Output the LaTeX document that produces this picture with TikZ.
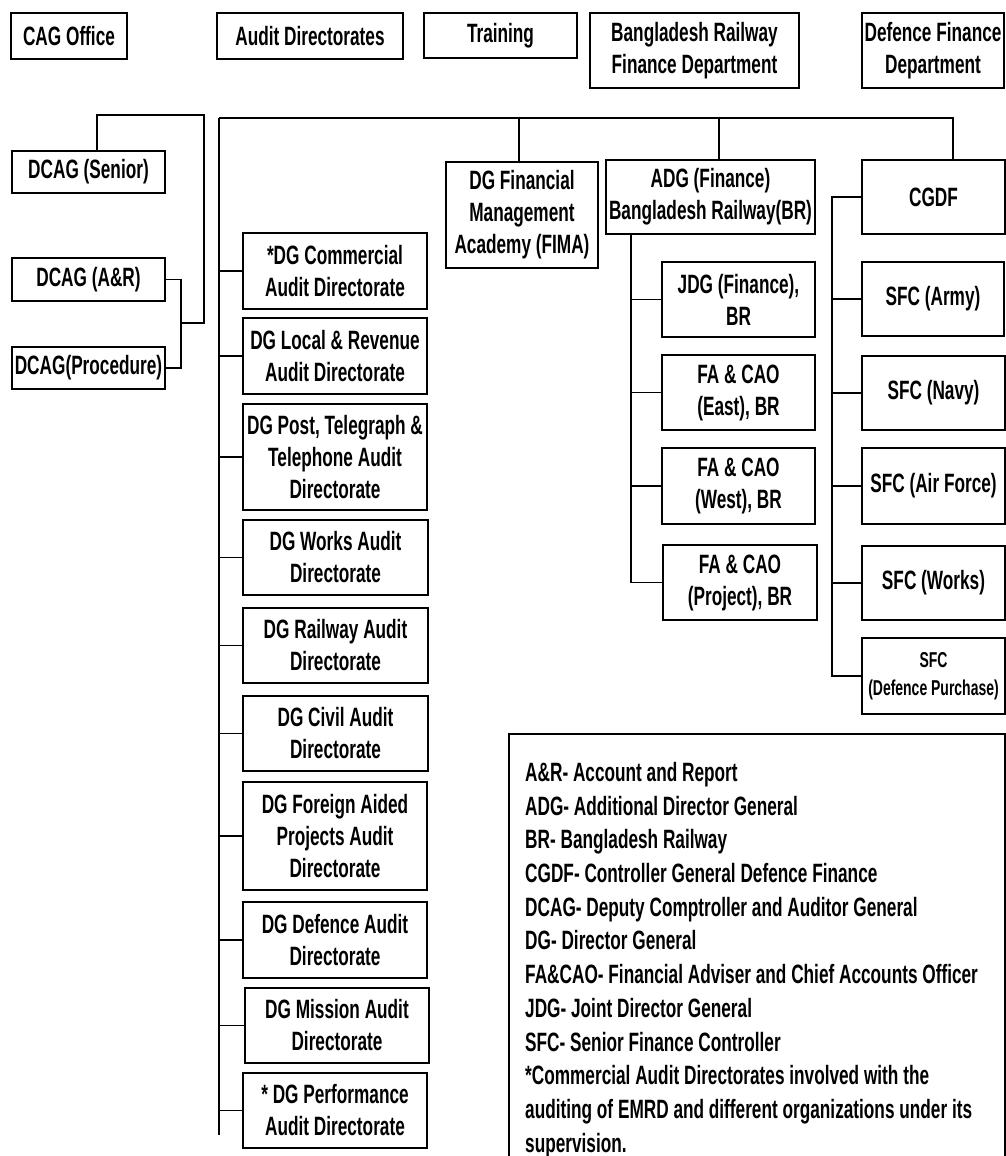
\documentclass[tikz,border=0pt]{standalone}
\usepackage{fontspec}
\setmainfont{Liberation Sans}[FakeStretch=0.65]
\tikzset{
  box/.style={draw, line width=1.6pt, inner sep=0pt, outer sep=0pt, align=center,
    font=\bfseries\fontsize{26.5}{32}\selectfont},
  smallbox/.style={box, font=\bfseries\fontsize{21.5}{28}\selectfont},
  conn/.style={line width=1.6pt},
}
\newcommand\orgbox[7][box]{%
  \node[#1, minimum width={(#5-#3)*1pt}, minimum height={(#6-#4)*1pt}] (#2)
    at ({(#3+#5)/2},{(#4+#6)/2}) {#7};}
\begin{document}
\begin{tikzpicture}[x=1pt,y=-1pt]
\useasboundingbox (0,0) rectangle (1006,1156);
% top row
\orgbox{cag}{11}{13}{127}{59}{CAG Office}
\orgbox{ad}{217}{13}{403}{59}{Audit Directorates}
\orgbox{tr}{424}{13}{577}{58}{Training}
\orgbox{brfd}{590}{13}{799}{88}{Bangladesh Railway\\Finance Department}
\orgbox{dfd}{862}{13}{1004}{88}{Defence Finance\\Department}
% DCAG
\orgbox{dsen}{12}{151}{165}{193}{DCAG (Senior)}
\orgbox{dar}{12}{258}{165}{301}{DCAG (A\&R)}
\orgbox{dproc}{12}{347}{165}{389}{DCAG(Procedure)}
% middle
\orgbox{fima}{446}{162}{598}{268}{DG Financial\\Management\\Academy (FIMA)}
\orgbox{adg}{606}{160}{815}{234}{ADG (Finance)\\Bangladesh Railway(BR)}
\orgbox{cgdf}{862}{160}{1005}{234}{CGDF}
\orgbox{jdg}{662}{262}{815}{337}{JDG (Finance),\\BR}
\orgbox{east}{662}{355}{815}{430}{FA \& CAO\\(East), BR}
\orgbox{west}{662}{448}{815}{524}{FA \& CAO\\(West), BR}
\orgbox{proj}{663}{545}{817}{620}{FA \& CAO\\(Project), BR}
\orgbox{army}{862}{262}{1004}{336}{SFC (Army)}
\orgbox{navy}{862}{356}{1005}{430}{SFC (Navy)}
\orgbox{air}{862}{448}{1005}{524}{SFC (Air Force)}
\orgbox{works}{862}{546}{1005}{620}{SFC (Works)}
\orgbox[smallbox]{dp}{862}{638}{1005}{714}{SFC\\(Defence Purchase)}
% audit column
\orgbox{com}{243}{233}{427}{309}{*DG Commercial\\Audit Directorate}
\orgbox{loc}{243}{318}{427}{394}{DG Local \& Revenue\\Audit Directorate}
\orgbox{post}{243}{404}{427}{510}{DG Post, Telegraph \&\\Telephone Audit\\Directorate}
\orgbox{wrk}{243}{520}{428}{595}{DG Works Audit\\Directorate}
\orgbox{rail}{243}{608}{428}{683}{DG Railway Audit\\Directorate}
\orgbox{civ}{243}{696}{428}{771}{DG Civil Audit\\Directorate}
\orgbox{for}{243}{782}{427}{890}{DG Foreign Aided\\Projects Audit\\Directorate}
\orgbox{def}{243}{902}{427}{978}{DG Defence Audit\\Directorate}
\orgbox{mis}{245}{988}{429}{1063}{DG Mission Audit\\Directorate}
\orgbox{perf}{243}{1073}{427}{1148}{* DG Performance\\Audit Directorate}
% coordinates
\coordinate (busL) at (219,118);
\coordinate (busR) at (953,118);
\coordinate (tkF) at (519,118);
\coordinate (tkA) at (719,118);
\coordinate (trunkEnd) at (219,1135);
\coordinate (dtop) at (204,115);
\coordinate (dj) at (181,323);
\coordinate (adgT) at (631,234);
\coordinate (cgT) at (832,197);
% connectors
\draw[conn] (busL) -- (busR) -- (busR |- cgdf.north);
\draw[conn] (busL) -- (trunkEnd);
\draw[conn] (tkF) -- (tkF |- fima.north);
\draw[conn] (tkA) -- (tkA |- adg.north);
\foreach \n in {com,loc,post,wrk,rail,civ,for,def,mis,perf}
  \draw[conn] (\n.west) -- (\n.west -| busL);
\draw[conn] ([xshift=8.5pt]dsen.north) |- (dtop) |- (dj);
\draw[conn] (dar.east) -| (dj) |- (dproc.east);
\draw[conn] (adgT) |- (proj.west);
\foreach \n in {jdg,east,west}
  \draw[conn] (\n.west) -- (\n.west -| adgT);
\draw[conn] (cgdf.west) -- (cgT) |- (dp.west);
\foreach \n in {army,navy,air,works}
  \draw[conn] (\n.west) -- (\n.west -| cgT);
% legend
\draw[conn] (509,1162) |- (1005,734) -- (1005,1162);
\node[anchor=north west, align=left, inner sep=0pt,
  font=\bfseries\fontsize{26.5}{33.7}\selectfont] (legend) at (525,762) {%
A\&R- Account and Report\\
ADG- Additional Director General\\
BR- Bangladesh Railway\\
CGDF- Controller General Defence Finance\\
DCAG- Deputy Comptroller and Auditor General\\
DG- Director General\\
FA\&CAO- Financial Adviser and Chief Accounts Officer\\
JDG- Joint Director General\\
SFC- Senior Finance Controller\\
*Commercial Audit Directorates involved with the\\
auditing of EMRD and different organizations under its\\
supervision.};
\end{tikzpicture}
\end{document}
